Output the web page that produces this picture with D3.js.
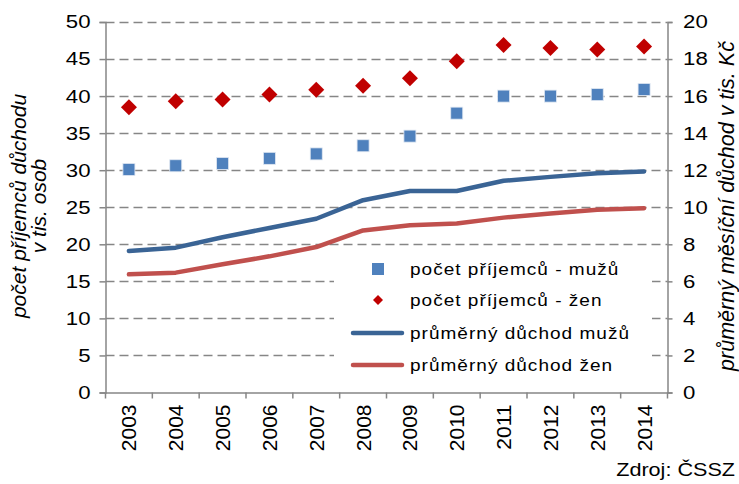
<!DOCTYPE html>
<html><head><meta charset="utf-8">
<script src="https://cdn.jsdelivr.net/npm/d3@7"></script>
<style>body{margin:0;background:#fff}svg{font-family:"Liberation Sans",Arial,sans-serif}</style>
</head><body>
<svg id="c" width="739" height="484"></svg>
<script>
const years = ["2003","2004","2005","2006","2007","2008","2009","2010","2011","2012","2013","2014"];
const recipientsMen = [30.1,30.6,30.9,31.6,32.2,33.3,34.6,37.7,40.0,40.0,40.2,40.9];
const recipientsWomen = [38.5,39.3,39.55,40.2,40.85,41.4,42.4,44.7,46.9,46.5,46.3,46.7];
const pensionMen = [7.64,7.82,8.38,8.88,9.38,10.38,10.88,10.88,11.43,11.64,11.84,11.93];
const pensionWomen = [6.38,6.47,6.92,7.35,7.85,8.75,9.03,9.12,9.44,9.66,9.86,9.95];
const leftTicks = [0,5,10,15,20,25,30,35,40,45,50];
const rightTicks = [0,2,4,6,8,10,12,14,16,18,20];
const legendLabels = ["počet příjemců - mužů","počet příjemců - žen","průměrný důchod mužů","průměrný důchod žen"];

const svg = d3.select("#c");
const L=105.5, R=667.5, T=22, B=392.5;
const SX = 1.2;
const x = d3.scaleBand().domain(years).range([L,R]);
const yL = d3.scaleLinear().domain([0,50]).range([B,T]);
const yR = d3.scaleLinear().domain([0,20]).range([B,T]);
const cx = d => x(d)+x.bandwidth()/2;

// gridlines
svg.append("g").selectAll("line").data(leftTicks.filter(t=>t>0)).join("line")
  .attr("x1",L).attr("x2",R).attr("y1",d=>Math.round(yL(d))+0.5).attr("y2",d=>Math.round(yL(d))+0.5)
  .attr("stroke","#868686").attr("stroke-width",1.5).attr("stroke-dasharray","9,5");

// axes
const gl = svg.append("g").attr("transform",`translate(${L},0)`)
  .call(d3.axisLeft(yL).tickValues(leftTicks).tickSize(6).tickPadding(6.5));
const gr = svg.append("g").attr("transform",`translate(${R},0)`)
  .call(d3.axisRight(yR).tickValues(rightTicks).tickSize(5).tickPadding(8));
const gb = svg.append("g").attr("transform",`translate(0,${B})`)
  .call(d3.axisBottom(x).tickSize(0).tickPadding(0));
[gl,gr,gb].forEach(g=>{
  g.select(".domain").attr("stroke","#868686").attr("stroke-width",1.5);
  g.selectAll(".tick line").attr("stroke","#868686").attr("stroke-width",1.5);
  g.selectAll("text").attr("fill","#000").attr("font-size",18.5).attr("font-family","Liberation Sans, Arial, sans-serif");
});
gl.selectAll(".tick text").attr("transform",`scale(${SX},1)`);
gr.selectAll(".tick text").attr("transform",`scale(${SX},1)`);
// category boundary ticks
svg.append("g").selectAll("line").data(years.concat(["end"])).join("line")
  .attr("x1",(d,i)=>L+i*x.bandwidth()).attr("x2",(d,i)=>L+i*x.bandwidth())
  .attr("y1",B).attr("y2",B+6).attr("stroke","#868686").attr("stroke-width",1.5);
gb.selectAll(".tick text").attr("transform","rotate(-90)").attr("text-anchor","end")
  .attr("dy","0.36em").attr("x",-12).attr("y",0).attr("font-size",21);

// legend background
const lgX=334, lgY=252;
svg.append("rect").attr("x",lgX).attr("y",lgY).attr("width",318).attr("height",138).attr("fill","#fff");

// lines
const lineGen = (scale)=>d3.line().x((d,i)=>cx(years[i])).y(d=>scale(d));
svg.append("path").datum(pensionMen).attr("d",lineGen(yR)).attr("fill","none")
  .attr("stroke","#3a6495").attr("stroke-width",4.5).attr("stroke-linecap","round").attr("stroke-linejoin","round");
svg.append("path").datum(pensionWomen).attr("d",lineGen(yR)).attr("fill","none")
  .attr("stroke","#c0504d").attr("stroke-width",4.5).attr("stroke-linecap","round").attr("stroke-linejoin","round");

// markers
svg.append("g").selectAll("rect").data(recipientsMen).join("rect")
  .attr("x",(d,i)=>cx(years[i])-6).attr("y",d=>yL(d)-6).attr("width",12).attr("height",12)
  .attr("fill","#4f81bd").attr("stroke","#dfe7f2").attr("stroke-width",0.8);
svg.append("g").selectAll("path").data(recipientsWomen).join("path")
  .attr("d","M0,-8L8,0L0,8L-8,0Z")
  .attr("transform",(d,i)=>`translate(${cx(years[i])},${yL(d)})`)
  .attr("fill","#c00000");

// legend
const lg = svg.append("g");
const rowY = [269,300,333,365];
const txX = 410, mkX = 378;
lg.append("rect").attr("x",mkX-6).attr("y",rowY[0]-6).attr("width",12).attr("height",12).attr("fill","#4f81bd");
lg.append("path").attr("d","M0,-5L5,0L0,5L-5,0Z").attr("transform",`translate(${mkX},${rowY[1]})`).attr("fill","#c00000");
lg.append("line").attr("x1",353).attr("x2",402).attr("y1",rowY[2]).attr("y2",rowY[2])
  .attr("stroke","#3a6495").attr("stroke-width",4.5).attr("stroke-linecap","round");
lg.append("line").attr("x1",353).attr("x2",402).attr("y1",rowY[3]).attr("y2",rowY[3])
  .attr("stroke","#c0504d").attr("stroke-width",4.5).attr("stroke-linecap","round");
lg.selectAll("text").data(legendLabels).join("text")
  .attr("transform",`translate(${txX},0) scale(1.12,1)`)
  .attr("x",0).attr("y",(d,i)=>rowY[i]).attr("dy","0.35em")
  .attr("font-size",17).attr("letter-spacing",0.9).attr("fill","#000").text(d=>d);

// axis titles
const lt = svg.append("text").attr("transform","translate(26,206) rotate(-90)")
  .attr("text-anchor","middle").attr("font-size",21).attr("font-style","italic").attr("fill","#000");
lt.append("tspan").attr("x",0).attr("dy",0).text("počet příjemců důchodu");
lt.append("tspan").attr("x",0).attr("dy",20).text("v tis. osob");
svg.append("text").attr("transform","translate(734,206) rotate(-90)").attr("text-anchor","middle")
  .attr("font-size",21.5).attr("font-style","italic").attr("fill","#000")
  .text("průměrný měsíční důchod v tis. Kč");

svg.append("text").attr("transform","translate(735,476) scale(1.2,1)").attr("text-anchor","end").attr("font-size",18)
  .attr("fill","#000").text("Zdroj: ČSSZ");
</script>
</body></html>
